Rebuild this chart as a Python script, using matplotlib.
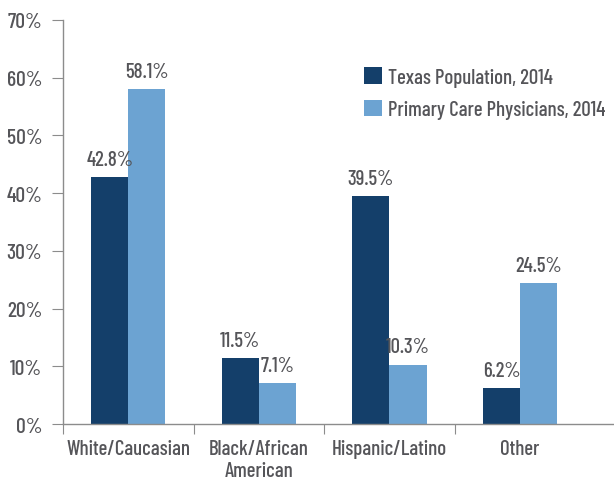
import matplotlib
matplotlib.use("Agg")
import matplotlib.pyplot as plt
import numpy as np

categories = ["White/Caucasian", "Black/African\nAmerican", "Hispanic/Latino", "Other"]
texas_pop = [42.8, 11.5, 39.5, 6.2]
physicians = [58.1, 7.1, 10.3, 24.5]
series_names = ["Texas Population, 2014", "Primary Care Physicians, 2014"]
yticks = [0, 10, 20, 30, 40, 50, 60, 70]

dark = "#143F6A"
light = "#6CA3D2"
txt = "#555559"
axc = "#8C8C8C"
plt.rcParams["font.family"] = ["Barlow Condensed", "Roboto Condensed", "Oswald", "DejaVu Sans"]
plt.rcParams["font.weight"] = "medium"
FS = 15

fig = plt.figure(figsize=(6.14, 4.81), dpi=100)
ax = fig.add_axes([0.1026, 0.1164, 0.8974, 0.84])

x = np.arange(len(categories))
w = 0.285
ax.bar(x - w/2, texas_pop, w, color=dark, label=series_names[0])
ax.bar(x + w/2, physicians, w, color=light, label=series_names[1])

for xi, v in zip(x - w/2, texas_pop):
    ax.text(xi, v + 1.4, f"{v:.1f}%", ha="center", va="bottom", fontsize=FS, color=txt)
for xi, v in zip(x + w/2, physicians):
    ax.text(xi, v + 1.4, f"{v:.1f}%", ha="center", va="bottom", fontsize=FS, color=txt)

ax.set_xlim(-0.5, 3.72)
ax.set_ylim(0, 70)
ax.set_yticks(yticks)
ax.set_yticklabels([f"{t}%" for t in yticks], fontsize=FS + 0.5, color=txt)
ax.set_xticks([-0.5, 0.5, 1.5, 2.5])
ax.set_xticklabels([])
ax.set_xticks(x, minor=True)
ax.set_xticklabels(categories, minor=True, fontsize=FS, color=txt, linespacing=1.15)
ax.tick_params(axis="x", which="minor", length=0, pad=11)
ax.tick_params(axis="x", which="major", length=7, color=axc, direction="out")
ax.tick_params(axis="y", length=8, color=axc, direction="out", pad=7)

for s in ["top", "right"]:
    ax.spines[s].set_visible(False)
for s in ["left", "bottom"]:
    ax.spines[s].set_color(axc)
    ax.spines[s].set_linewidth(1.0)

leg = ax.legend(loc="upper left", bbox_to_anchor=(0.531, 0.903), frameon=False,
                prop=dict(size=FS, weight="medium"), handlelength=0.85, handleheight=0.85,
                handletextpad=0.3, labelspacing=0.6, borderaxespad=0)
for t in leg.get_texts():
    t.set_color(txt)

fig.savefig("out.png", dpi=100)
